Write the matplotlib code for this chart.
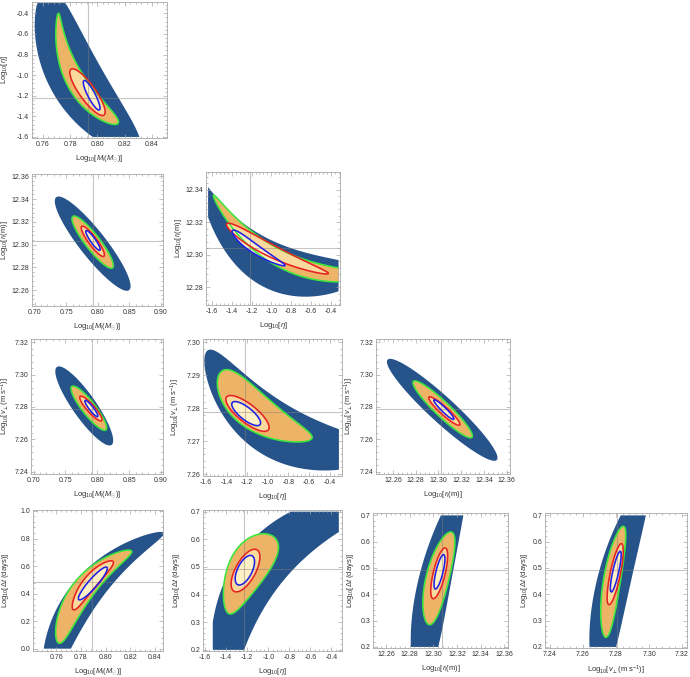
import numpy as np
import matplotlib
matplotlib.use("Agg")
import matplotlib.pyplot as plt
from matplotlib.ticker import FixedLocator, AutoMinorLocator, FormatStrFormatter

plt.rcParams['font.family'] = ['Liberation Sans', 'DejaVu Sans']
plt.rcParams['mathtext.fontset'] = 'custom'
plt.rcParams['mathtext.rm'] = 'Liberation Sans'
plt.rcParams['mathtext.it'] = 'Liberation Sans:italic'
plt.rcParams['mathtext.bf'] = 'Liberation Sans:bold'

# ---------------- labels ----------------
lab_M = r"Log$_{10}$[$M_l$($M_{\odot}$)]"
lab_eta = r"Log$_{10}$[$\eta$]"
lab_r = r"Log$_{10}$[$r_l$(m)]"
lab_v = r"Log$_{10}$[$v_{\perp}$(m s$^{-1}$)]"
lab_dt = r"Log$_{10}$[$\Delta t$ (days)]"

# ---------------- ticks ----------------
ticks_M1 = [0.76, 0.78, 0.80, 0.82, 0.84]
ticks_M2 = [0.70, 0.75, 0.80, 0.85, 0.90]
ticks_M4 = [0.74, 0.76, 0.78, 0.80, 0.82, 0.84]
ticks_eta = [-1.6, -1.4, -1.2, -1.0, -0.8, -0.6, -0.4]
ticks_r_y = [12.26, 12.28, 12.30, 12.32, 12.34, 12.36]
ticks_r_y2 = [12.28, 12.30, 12.32, 12.34]
ticks_r_x = [12.26, 12.28, 12.30, 12.32, 12.34, 12.36]
ticks_v = [7.24, 7.26, 7.28, 7.30, 7.32]
ticks_v2 = [7.26, 7.27, 7.28, 7.29, 7.30]
ticks_dt1 = [0.0, 0.2, 0.4, 0.6, 0.8, 1.0]
ticks_dt2 = [0.2, 0.3, 0.4, 0.5, 0.6, 0.7]

# contour specs: [x_tip1, y_tip1, x_tip2, y_tip2, bulge, half_width, taper]
# order: outer (dark), green (3 sigma), red (2 sigma), blue (1 sigma)
A_contours = [[0.7619, -0.158, 0.8292, -1.742, -0.13, 0.200, 0.0],
              [0.7713, -0.400, 0.8146, -1.474, -0.122, 0.068, 0.45],
              [0.7806, -0.943, 0.8048, -1.387, 0.0, 0.058, 0.0],
              [0.7901, -1.053, 0.8014, -1.338, 0.0, 0.027, 0.0]]
B_contours = [[0.7343, 12.3416, 0.8495, 12.2600, 0.0, 0.100, 0.0],
              [0.7605, 12.3247, 0.8233, 12.2795, 0.0, 0.056, 0.0],
              [0.7746, 12.3160, 0.8097, 12.2897, 0.0, 0.032, 0.0],
              [0.7814, 12.3122, 0.8034, 12.2950, 0.0, 0.019, 0.0]]
C_contours = [[-1.722, 12.3459, -0.069, 12.2868, -0.28, 0.165, 0.45],
              [-1.5868, 12.3367, 0.0322, 12.2872, -0.20, 0.062, 0.3],
              [-1.4519, 12.3190, -0.4231, 12.2884, -0.035, 0.045, -0.3],
              [-1.3945, 12.3149, -0.8616, 12.2933, -0.02, 0.033, -0.3]]
D_contours = [[0.7366, 7.3047, 0.8224, 7.2566, 0.0, 0.088, 0.0],
              [0.7600, 7.2927, 0.8135, 7.2658, 0.0, 0.050, 0.0],
              [0.7730, 7.2865, 0.8068, 7.2716, 0.0, 0.029, 0.0],
              [0.7808, 7.2840, 0.8005, 7.2741, 0.0, 0.016, 0.0]]
E_contours = [[-1.6006, 7.2970, 0.1212, 7.2662, -0.24, 0.200, 0.0],
              [-1.465, 7.2907, -0.5747, 7.2707, -0.08, 0.130, -0.3],
              [-1.4002, 7.2834, -0.9956, 7.2734, 0.0, 0.066, 0.0],
              [-1.3452, 7.2817, -1.0765, 7.2750, 0.0, 0.045, 0.0]]
F_contours = [[12.2552, 7.3092, 12.3514, 7.2473, 0.0, 0.095, 0.0],
              [12.2779, 7.2958, 12.3295, 7.2613, 0.0, 0.055, 0.0],
              [12.2916, 7.2861, 12.3187, 7.2689, 0.0, 0.029, 0.0],
              [12.2960, 7.2844, 12.3135, 7.2724, 0.0, 0.017, 0.0]]
G_contours = [[0.7518, -0.2338, 0.8470, 0.8432, 0.175, 0.117, -0.3],
              [0.7613, 0.0432, 0.8208, 0.7106, 0.10, 0.083, -0.2],
              [0.7735, 0.2842, 0.8059, 0.6336, 0.03, 0.050, 0.0],
              [0.7781, 0.3565, 0.8010, 0.5902, 0.0, 0.033, 0.0]]
H_contours = [[-1.4600, -0.000, 0.1800, 0.760, 0.395, 0.180, 0.0],
              [-1.3777, 0.3316, -0.9615, 0.6124, 0.04, 0.135, 0.3],
              [-1.3250, 0.4120, -1.1075, 0.5620, 0.0, 0.072, 0.0],
              [-1.2908, 0.4360, -1.1541, 0.5404, 0.0, 0.052, 0.0]]
I_contours = [[12.2898, 0.0693, 12.3264, 0.8293, 0.06, 0.120, -0.2],
              [12.2963, 0.2847, 12.3152, 0.6368, 0.02, 0.085, 0.0],
              [12.2997, 0.3835, 12.3101, 0.5760, 0.0, 0.044, 0.0],
              [12.3016, 0.4202, 12.3087, 0.5507, 0.0, 0.026, 0.0]]
J_contours = [[7.2700, 0.0693, 7.2990, 0.8293, 0.066, 0.118, -0.1],
              [7.2738, 0.2365, 7.2845, 0.6583, 0.02, 0.060, 0.0],
              [7.2757, 0.3607, 7.2833, 0.5925, 0.0, 0.036, 0.0],
              [7.2771, 0.4088, 7.2826, 0.5633, 0.0, 0.021, 0.0]]

# prior boxes (x0, x1, y0, y1); None = no bound
A_prior = [None, None, -1.60, -0.30]
C_prior = [-1.64, -0.32, None, None]
E_prior = [-1.64, -0.31, None, None]
G_prior = [None, None, 0.0, None]
H_prior = [-1.527, -0.33, 0.20, 0.70]
I_prior = [None, None, 0.20, 0.70]
J_prior = [None, None, 0.20, 0.70]
no_prior = [None, None, None, None]

# crosshair (reference values)
cross = {'A': (0.793, -1.225), 'B': (0.792, 12.3035), 'C': (-1.22, 12.304),
         'D': (0.791, 7.2787), 'E': (-1.22, 7.2787), 'F': (12.302, 7.2787),
         'G': (0.789, 0.484), 'H': (-1.232, 0.492), 'I': (12.307, 0.494),
         'J': (7.2806, 0.494)}

# panel frame rectangles in pixels (left, right, top, bottom)
rects = {'A': (32, 167, 2, 138), 'B': (32, 163, 174, 306), 'C': (206, 340, 172, 305),
         'D': (31, 163, 339, 474), 'E': (203, 342, 339, 476), 'F': (376, 510, 339, 474),
         'G': (33, 163, 510, 651), 'H': (203, 342, 510, 651), 'I': (373, 508, 513, 648),
         'J': (545, 687, 513, 648)}
# y-label centre x position (pixels)
ylab_x = {'A': 7, 'B': 7, 'C': 181, 'D': 9, 'E': 178, 'F': 352, 'G': 7.5, 'H': 178,
          'I': 352, 'J': 527}

panels = [
    ('A', (0.752, 0.851), (-1.61, -0.29), ticks_M1, ticks_eta, '%.2f', '%.1f', lab_M, lab_eta, A_contours, A_prior),
    ('B', (0.696, 0.903), (12.246, 12.362), ticks_M2, ticks_r_y, '%.2f', '%.2f', lab_M, lab_r, B_contours, no_prior),
    ('C', (-1.661, -0.305), (12.269, 12.351), ticks_eta, ticks_r_y2, '%.1f', '%.2f', lab_eta, lab_r, C_contours, C_prior),
    ('D', (0.696, 0.903), (7.2386, 7.322), ticks_M2, ticks_v, '%.2f', '%.2f', lab_M, lab_v, D_contours, no_prior),
    ('E', (-1.63, -0.28), (7.2594, 7.301), ticks_eta, ticks_v2, '%.1f', '%.2f', lab_eta, lab_v, E_contours, E_prior),
    ('F', (12.245, 12.363), (7.2386, 7.322), ticks_r_x, ticks_v, '%.2f', '%.2f', lab_r, lab_v, F_contours, no_prior),
    ('G', (0.741, 0.8465), (-0.017, 1.007), ticks_M4, ticks_dt1, '%.2f', '%.1f', lab_M, lab_dt, G_contours, G_prior),
    ('H', (-1.62, -0.30), (0.196, 0.706), ticks_eta, ticks_dt2, '%.1f', '%.1f', lab_eta, lab_dt, H_contours, H_prior),
    ('I', (12.249, 12.363), (0.196, 0.709), ticks_r_x, ticks_dt2, '%.2f', '%.1f', lab_r, lab_dt, I_contours, I_prior),
    ('J', (7.237, 7.323), (0.196, 0.709), ticks_v, ticks_dt2, '%.2f', '%.1f', lab_v, lab_dt, J_contours, J_prior),
]

fill_colors = ['#26538A', '#EDB467', '#F9D99C', '#FFF1C4']
line_colors = [None, '#3CE63C', '#E62222', '#2020E8']
frame_col = '#A8A8A8'
text_col = '#333333'

W, H = 690, 677
fig = plt.figure(figsize=(W / 100, H / 100), dpi=100)


def field(Xg, Yg, xlim, ylim, spec):
    x1, y1, x2, y2, bulge, hw, taper = spec
    sx = xlim[1] - xlim[0]
    sy = ylim[1] - ylim[0]
    U = (Xg - xlim[0]) / sx
    V = (Yg - ylim[0]) / sy
    u1, v1 = (x1 - xlim[0]) / sx, (y1 - ylim[0]) / sy
    u2, v2 = (x2 - xlim[0]) / sx, (y2 - ylim[0]) / sy
    dx, dy = u2 - u1, v2 - v1
    L = np.hypot(dx, dy)
    a = L / 2
    dx, dy = dx / L, dy / L
    nx, ny = -dy, dx
    cx = (u1 + u2) / 2 + bulge * nx
    cy = (v1 + v2) / 2 + bulge * ny
    du, dv = U - cx, V - cy
    p = du * dx + dv * dy
    q = du * nx + dv * ny
    k = -bulge / a ** 2
    q2 = q - k * p ** 2
    w = np.maximum(hw * (1 + taper * p / a), 1e-3)
    return (p / a) ** 2 + (q2 / w) ** 2


for name, xlim, ylim, xt, yt, xf, yf, xl, yl, conts, prior in panels:
    l, r, t, b = rects[name]
    ax = fig.add_axes([l / W, (H - b) / H, (r - l) / W, (b - t) / H])
    ax.set_xlim(*xlim)
    ax.set_ylim(*ylim)
    gx0 = xlim[0] if prior[0] is None else max(xlim[0], prior[0])
    gx1 = xlim[1] if prior[1] is None else min(xlim[1], prior[1])
    gy0 = ylim[0] if prior[2] is None else max(ylim[0], prior[2])
    gy1 = ylim[1] if prior[3] is None else min(ylim[1], prior[3])
    gx = np.linspace(gx0, gx1, 500)
    gy = np.linspace(gy0, gy1, 500)
    Xg, Yg = np.meshgrid(gx, gy)
    fields = [field(Xg, Yg, xlim, ylim, s) for s in conts]
    for i, F in enumerate(fields):
        ax.contourf(Xg, Yg, F, levels=[-1, 1], colors=[fill_colors[i]], zorder=1 + i * 0.1,
                    antialiased=True)
    cxv, cyv = cross[name]
    ax.axvline(cxv, color='#808080', alpha=0.45, lw=0.8, zorder=2)
    ax.axhline(cyv, color='#808080', alpha=0.45, lw=0.8, zorder=2)
    for i in (1, 2, 3):
        ax.contour(Xg, Yg, fields[i], levels=[1], colors=[line_colors[i]], linewidths=1.15, zorder=3)

    ax.xaxis.set_major_locator(FixedLocator(xt))
    ax.yaxis.set_major_locator(FixedLocator(yt))
    ax.xaxis.set_major_formatter(FormatStrFormatter(xf))
    ax.yaxis.set_major_formatter(FormatStrFormatter(yf))
    ax.xaxis.set_minor_locator(AutoMinorLocator(5))
    ax.yaxis.set_minor_locator(AutoMinorLocator(5))
    ax.tick_params(which='both', direction='in', top=True, right=True, color=frame_col,
                   labelsize=5, labelcolor=text_col, width=0.5, pad=2)
    ax.tick_params(which='major', length=3)
    ax.tick_params(which='minor', length=1.5)
    for s in ax.spines.values():
        s.set_color(frame_col)
        s.set_linewidth(0.6)
    ax.set_xlabel(xl, fontsize=5.5, color=text_col, labelpad=4)
    ax.set_ylabel(yl, fontsize=5.5, color=text_col)
    ax.yaxis.set_label_coords((ylab_x[name] + 3.5 - l) / (r - l), 0.5)

fig.savefig('out.png', dpi=100)
